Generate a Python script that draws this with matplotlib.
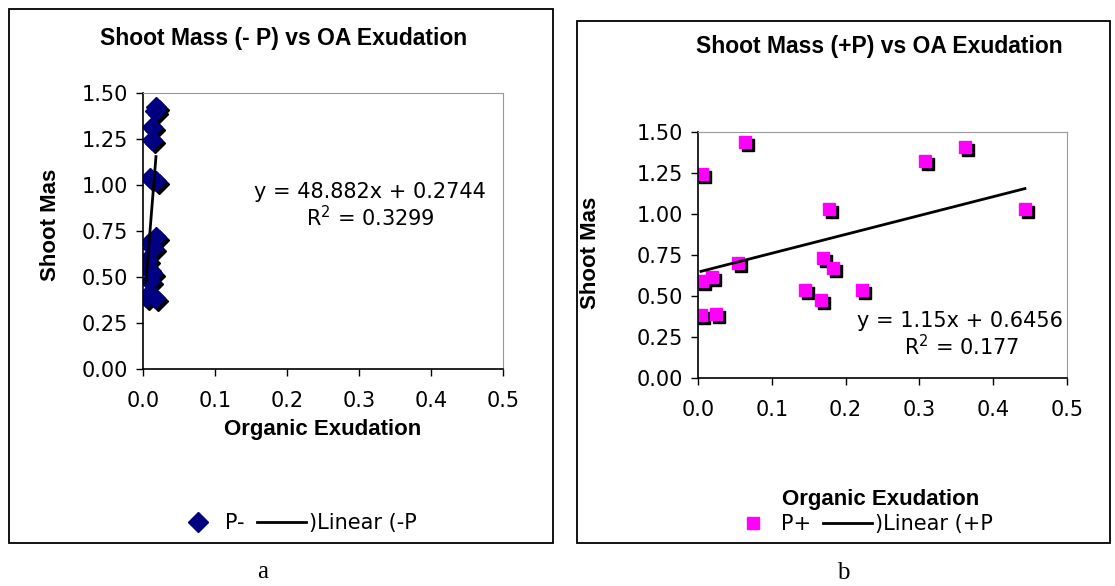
import matplotlib.pyplot as plt
import matplotlib.transforms as mtransforms
from matplotlib.patches import Rectangle
import numpy as np

plt.rcParams['font.family'] = ['DejaVu Sans']

# -P data (organic exudation vs shoot mass)
xMinus = [0.018, 0.017, 0.0125, 0.0125, 0.010, 0.018, 0.018, 0.010, 0.014, 0.0056, 0.007, 0.012, 0.010, 0.004, 0.017]
yMinus = [1.424, 1.40, 1.316, 1.247, 1.036, 1.02, 0.72, 0.69, 0.66, 0.593, 0.55, 0.52, 0.48, 0.394, 0.386]
fitMinus = (48.882, 0.2744)
eqMinus = ['y = 48.882x + 0.2744', 'R$^2$ = 0.3299']

# +P data
xPlus = [0.005, 0.178, 0.443, 0.054, 0.169, 0.183, 0.005, 0.019, 0.145, 0.167, 0.222, 0.004, 0.025, 0.064, 0.308, 0.362]
yPlus = [1.244, 1.029, 1.029, 0.699, 0.730, 0.669, 0.593, 0.618, 0.537, 0.476, 0.537, 0.384, 0.390, 1.441, 1.323, 1.407]
fitPlus = (1.15, 0.6456)
eqPlus = ['y = 1.15x + 0.6456', 'R$^2$ = 0.177']

yticks = [0.0, 0.25, 0.5, 0.75, 1.0, 1.25, 1.5]
xticks = [0.0, 0.1, 0.2, 0.3, 0.4, 0.5]

W, H = 1115, 586
fig = plt.figure(figsize=(W / 100, H / 100), dpi=100)
bold = dict(family='Liberation Sans', fontweight='bold')

def fx(x):
    return x / W

def fy(y):
    return 1 - y / H

# outer chart boxes
for (x0, y0, x1, y1) in [(9, 9, 553, 543), (577, 21, 1110, 543)]:
    fig.patches.append(Rectangle((fx(x0), fy(y1)), (x1 - x0) / W, (y1 - y0) / H,
                                 transform=fig.transFigure, fill=False, ec='black', lw=1.3))

def panel(rect, xs, ys, fit, marker, color, msize):
    x0, y0, x1, y1 = rect
    ax = fig.add_axes([fx(x0), fy(y1), (x1 - x0) / W, (y1 - y0) / H])
    shadow = mtransforms.offset_copy(ax.transData, fig=fig, x=3, y=-3, units='dots')
    ax.plot(xs, ys, linestyle='none', marker=marker, ms=msize, color='black', mec='black', transform=shadow)
    pts, = ax.plot(xs, ys, linestyle='none', marker=marker, ms=msize, color=color, mec=color)
    xl = np.array([min(xs), max(xs)])
    ln, = ax.plot(xl, fit[0] * xl + fit[1], color='black', lw=2)
    ax.set_xlim(0, 0.5)
    ax.set_ylim(0, 1.5)
    ax.set_xticks(xticks)
    ax.set_xticklabels([f'{t:.1f}' for t in xticks])
    ax.set_yticks(yticks)
    ax.set_yticklabels([f'{t:.2f}' for t in yticks])
    ax.tick_params(labelsize=15, length=5, width=1, direction='out', pad=6)
    ax.tick_params(axis='x', pad=11)
    for s in ['top', 'right']:
        ax.spines[s].set_color('#999999')
    for s in ['left', 'bottom']:
        ax.spines[s].set_linewidth(1.2)
    return pts, ln

p1, l1 = panel((143, 93, 503, 369), xMinus, yMinus, fitMinus, 'D', '#000080', 10)
p2, l2 = panel((698, 132, 1067, 378), xPlus, yPlus, fitPlus, 's', '#FF00FF', 8.5)

# titles and axis labels
fig.text(fx(284), fy(38), 'Shoot Mass (- P) vs OA Exudation', ha='center', va='center', fontsize=16.5, **bold)
fig.text(fx(879), fy(47), 'Shoot Mass (+P) vs OA Exudation', ha='center', va='center', fontsize=16.5, **bold)
fig.text(fx(50), fy(225), 'Shoot Mas', rotation=90, ha='center', va='center', fontsize=16, **bold)
fig.text(fx(591), fy(253), 'Shoot Mas', rotation=90, ha='center', va='center', fontsize=16, **bold)
fig.text(fx(323), fy(430), 'Organic Exudation', ha='center', va='center', fontsize=16, **bold)
fig.text(fx(881), fy(500), 'Organic Exudation', ha='center', va='center', fontsize=16, **bold)

# trendline equations
fig.text(fx(370), fy(192), eqMinus[0], ha='center', va='center', fontsize=15)
fig.text(fx(370), fy(218), eqMinus[1], ha='center', va='center', fontsize=15)
fig.text(fx(960), fy(321), eqPlus[0], ha='center', va='center', fontsize=15)
fig.text(fx(961), fy(347), eqPlus[1], ha='center', va='center', fontsize=15)

fig.legend([p1, l1], ['P-', ')Linear (-P'], loc='center', bbox_to_anchor=(fx(295), fy(523)),
           ncol=2, frameon=False, fontsize=15, handlelength=2.35, columnspacing=0.6, handletextpad=0.15)
fig.legend([p2, l2], ['P+', ')Linear (+P'], loc='center', bbox_to_anchor=(fx(861), fy(524)),
           ncol=2, frameon=False, fontsize=15, handlelength=2.35, columnspacing=0.6, handletextpad=0.15)

fig.text(fx(263), fy(572), 'a', ha='center', va='center', fontsize=18, family='Liberation Serif')
fig.text(fx(843), fy(573), 'b', ha='center', va='center', fontsize=18, family='Liberation Serif')

fig.savefig('out.png', dpi=100)
